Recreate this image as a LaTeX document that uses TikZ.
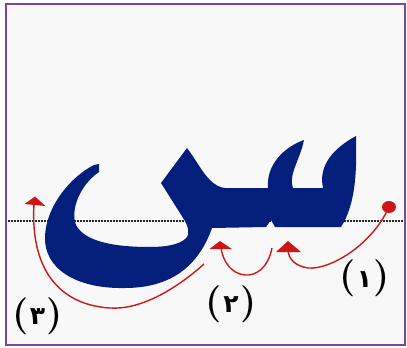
\documentclass[tikz,border=0pt]{standalone}
\usepackage{fontspec}
\newfontfamily\arabicfont[Script=Arabic]{DejaVu Sans}
\definecolor{framepurple}{RGB}{125,70,155}
\definecolor{paper}{RGB}{248,248,248}
\definecolor{letterblue}{RGB}{4,30,124}
\definecolor{arrowred}{RGB}{205,22,22}
\tikzset{
  stroke/.style={draw=arrowred, line width=1.4pt},
  headtri/.style={fill=arrowred, draw=none},
  numlabel/.style={inner sep=0pt, text=black},
  baseline dots/.style={draw=black!85, line width=1.5pt, dash pattern=on 1.5pt off 1.5pt}
}
\newcommand{\numlab}[1]{{\fontsize{37}{37}\selectfont\bfseries(\kern1.5pt\raisebox{0.5pt}{\arabicfont\bfseries\fontsize{25}{25}\selectfont #1}\kern1.5pt)}}
\begin{document}
\begin{tikzpicture}[x=1pt,y=-1pt]
\useasboundingbox (0,0) rectangle (407,348);
\fill[white] (0,0) rectangle (407,348);
\draw[framepurple, line width=2pt, fill=paper] (6,3.5) rectangle (405,345);
% baseline
\coordinate (bl) at (8,221);
\coordinate (br) at (404,221);
\draw[baseline dots] (bl) -- (br);
% letter seen
\fill[letterblue]
  (356,136) .. controls (357,175) and (355,205) .. (341,227)
  -- (275,227) -- (271,220) -- (266,227) -- (212,228)
  .. controls (200,262) and (175,288) .. (125,288)
  .. controls (75,289) and (44,268) .. (45,237)
  .. controls (46,205) and (72,176) .. (94,165)
  -- (99,164) -- (99,172)
  .. controls (80,185) and (70,210) .. (76,225)
  .. controls (85,242) and (115,247) .. (150,247)
  .. controls (170,247) and (185,243) .. (188,235)
  .. controls (189,229) and (187,225) .. (185,221)
  -- (161,183) -- (187,148)
  .. controls (200,165) and (208,186) .. (225,188)
  -- (268,188)
  .. controls (266,165) and (284,147) .. (304,140)
  .. controls (300,160) and (288,175) .. (293,188)
  -- (323,188)
  .. controls (318,165) and (334,148) .. (356,136)
  -- cycle;
% stroke 1
\coordinate (s1) at (389,207);
\coordinate (h1) at (288,251);
\fill[arrowred] (s1) ellipse [x radius=7, y radius=6];
\draw[stroke] (s1) .. controls (372,245) and (330,270) .. (308,268)
  .. controls (295,266) and (289,259) .. (h1);
\fill[headtri] (288,241) -- (276,252) -- (301,252) -- cycle;
% stroke 2
\coordinate (s2) at (272,248);
\coordinate (h2) at (221,248);
\draw[stroke] (s2) .. controls (268,268) and (256,276) .. (245,275)
  .. controls (232,274) and (223,262) .. (h2);
\fill[headtri] (220,241) -- (209.5,249) -- (232,249) -- cycle;
% stroke 3
\coordinate (s3) at (204,264);
\coordinate (h3) at (34,204);
\draw[stroke] (s3) .. controls (175,290) and (140,310) .. (110,308)
  .. controls (60,305) and (30,270) .. (h3);
\fill[headtri] (35,196.5) -- (24.5,204) -- (45.5,206) -- cycle;
% labels
\node[numlabel] (n1) at (364.5,278.5) {\numlab{١}};
\node[numlabel] (n2) at (231,304) {\numlab{٢}};
\node[numlabel] (n3) at (37.5,316) {\numlab{٣}};
\end{tikzpicture}
\end{document}
